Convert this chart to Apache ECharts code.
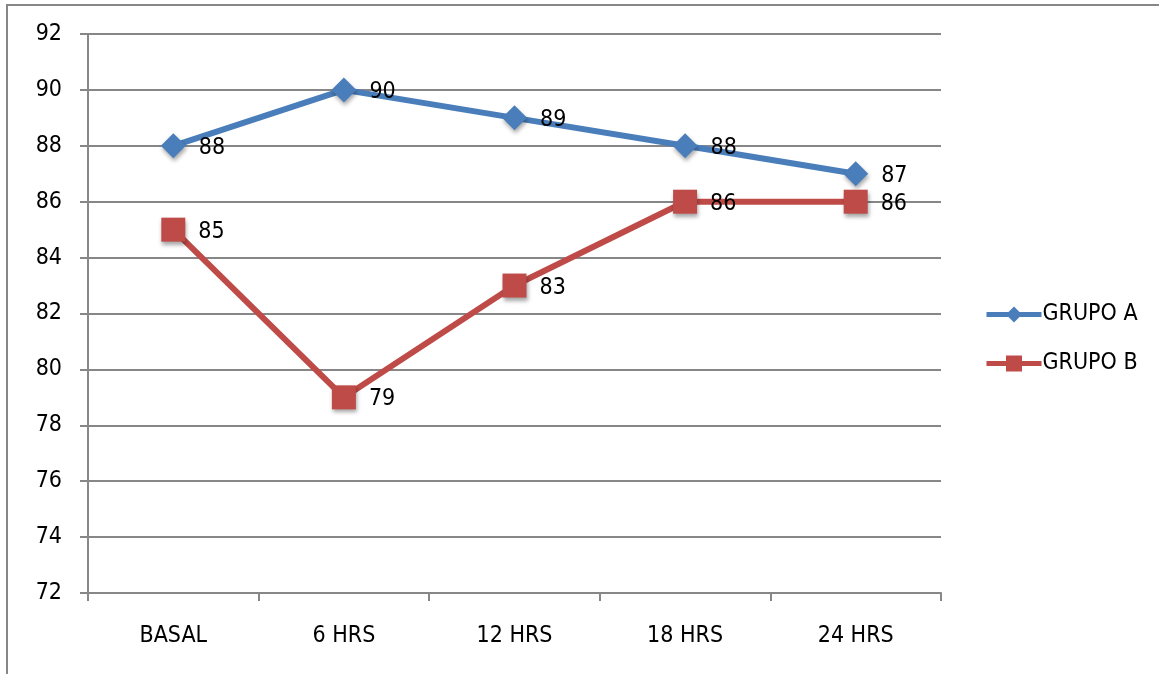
<!DOCTYPE html>
<html>
<head>
<meta charset="utf-8">
<script src="https://cdn.jsdelivr.net/npm/echarts@6/dist/echarts.min.js"></script>
<style>
  html, body { margin: 0; padding: 0; background: #fff; }
  #chart { width: 1159px; height: 674px; }
</style>
</head>
<body>
<div id="chart"></div>
<script>
// Time points and values for each group
const categories = ['BASAL', '6 HRS', '12 HRS', '18 HRS', '24 HRS'];
const grupoA = [88, 90, 89, 88, 87];
const grupoB = [85, 79, 83, 86, 86];
const seriesNames = ['GRUPO A', 'GRUPO B'];

const FONT = '"DejaVu Sans Condensed", "Liberation Sans", Arial, sans-serif';
const FS = 23;
const BLUE = '#4a7ebb';
const RED = '#be4b48';

const chart = echarts.init(document.getElementById('chart'), null, { renderer: 'canvas' });

function lineSeries(name, data, color, symbol, size) {
  return {
    name: name,
    type: 'line',
    data: data,
    symbol: symbol,
    symbolSize: size,
    lineStyle: { color: color, width: 6 },
    itemStyle: {
      color: color,
      shadowColor: 'rgba(0,0,0,0.35)',
      shadowBlur: 4,
      shadowOffsetX: 1,
      shadowOffsetY: 3
    },
    label: {
      show: true,
      position: 'right',
      distance: 13,
      offset: [0, 2],
      color: '#000',
      fontFamily: FONT,
      fontSize: FS
    },
    emphasis: { disabled: true },
    animation: false
  };
}

chart.setOption({
  animation: false,
  graphic: [{
    type: 'rect',
    shape: { x: 7, y: 5, width: 1200, height: 720 },
    style: { fill: 'none', stroke: '#878787', lineWidth: 2 },
    silent: true
  }],
  grid: { left: 88, top: 34, right: 218, bottom: 81, containLabel: false },
  legend: {
    orient: 'vertical',
    left: 979,
    top: 298,
    itemGap: 26,
    itemWidth: 55,
    itemHeight: 20,
    lineStyle: { width: 5 },
    textStyle: { fontFamily: FONT, fontSize: FS, color: '#000', padding: [0, 0, 0, -4] },
    data: seriesNames
  },
  xAxis: {
    type: 'category',
    data: categories,
    boundaryGap: true,
    axisLine: { lineStyle: { color: '#878787', width: 2 } },
    axisTick: { show: true, length: 8, inside: false, lineStyle: { color: '#878787', width: 2 } },
    axisLabel: { fontFamily: FONT, fontSize: FS, color: '#000', margin: 32 },
    splitLine: { show: false }
  },
  yAxis: {
    type: 'value',
    min: 72,
    max: 92,
    interval: 2,
    axisLine: { show: true, lineStyle: { color: '#878787', width: 2 } },
    axisTick: { show: true, length: 8, lineStyle: { color: '#878787', width: 2 } },
    axisLabel: { fontFamily: FONT, fontSize: FS, color: '#000', margin: 26 },
    splitLine: { show: true, lineStyle: { color: '#878787', width: 2 } }
  },
  series: [
    lineSeries(seriesNames[0], grupoA, BLUE, 'diamond', 25),
    lineSeries(seriesNames[1], grupoB, RED, 'rect', 24)
  ]
});
</script>
</body>
</html>
